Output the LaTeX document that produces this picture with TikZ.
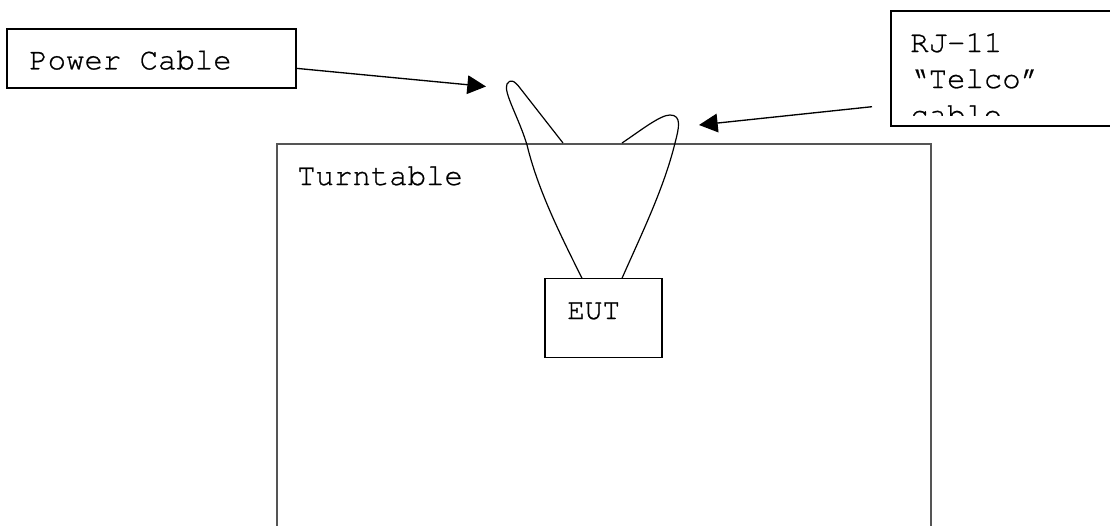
\documentclass[tikz,border=0pt]{standalone}
\usepackage{fontspec}
\setmonofont{texgyrecursor}[Extension=.otf, UprightFont=*-regular, FakeBold=0.8, AutoFakeBold=0]
\newfontfamily\cursorfont{texgyrecursor}[Extension=.otf, UprightFont=*-regular, FakeBold=0.8]
\usetikzlibrary{arrows.meta}
\definecolor{tgray}{RGB}{85,85,85}
\begin{document}
\begin{tikzpicture}[x=0.75pt,y=-0.75pt,
  box/.style={draw=black, line width=1pt, rectangle, inner sep=0pt, outer sep=0pt, anchor=north west},
  tbox/.style={draw=tgray, line width=1.5pt, rectangle, inner sep=0pt, outer sep=0pt, anchor=north west},
  lbl/.style={font=\cursorfont\fontsize{23pt}{27pt}\selectfont, anchor=base west, inner sep=0pt},
  cable/.style={line width=0.9pt, black},
  arr/.style={line width=1pt, -{Triangle[length=14pt,width=14pt]}}]
\useasboundingbox (0,0) rectangle (1110,525);

% turntable
\node[tbox, minimum width=654*0.75pt, minimum height=420*0.75pt] (turntable) at (277,144) {};
\node[lbl] (ttlabel) at (297,185) {Turntable};

% EUT
\node[box, minimum width=117*0.75pt, minimum height=79*0.75pt] (eut) at (545,278.3) {};
\node[lbl, font=\cursorfont\fontsize{22pt}{26pt}\selectfont] (eutlabel) at (567,319) {EUT};

% power cable label box
\node[box, minimum width=289*0.75pt, minimum height=59*0.75pt] (pwr) at (7,29) {};
\node[lbl] (pwrlabel) at (29,69.3) {Power Cable};

% RJ-11 label box
\node[tbox, draw=black, line width=1.2pt, minimum width=240*0.75pt, minimum height=115*0.75pt] (rj) at (891,11) {};
\begin{scope}
  \clip (891,11) rectangle (1110,115.5);
  \node[lbl] (rj1) at (910,52) {RJ-11};
  \node[lbl] (rj2) at (910,88) {“Telco”};
  \node[lbl] (rj3) at (910,124) {cable};
\end{scope}

% arrows
\coordinate (pwrtip) at (486,86.5);
\draw[arr] ([yshift=-7.35pt]pwr.east) -- (pwrtip);
\coordinate (telstart) at (872,106.7);
\coordinate (teltip) at (699,125);
\draw[arr] (telstart) -- (teltip);

% cables
\draw[cable] (582,278.3) .. controls (559.5,233) and (538,190) .. (527,145)
  .. controls (519,118) and (503,92) .. (507,84)
  .. controls (510,79) and (514,80) .. (520,88) -- (563,143);
\draw[cable] (622,278.3) .. controls (642,233) and (664,188) .. (675,143)
  .. controls (679,128) and (682,115) .. (670,115)
  .. controls (660,115) and (640,131) .. (622,143);
\end{tikzpicture}
\end{document}
